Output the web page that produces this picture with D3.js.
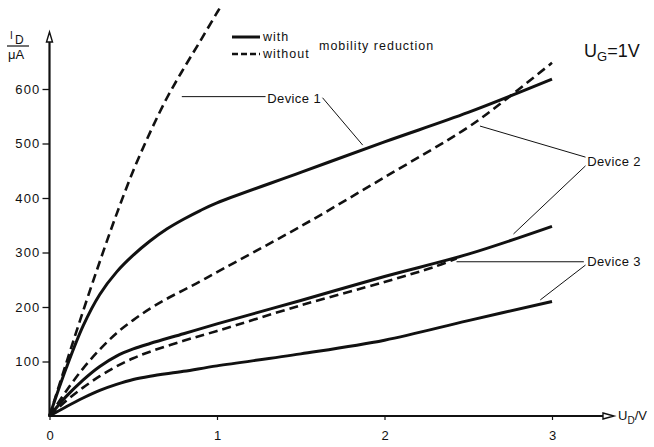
<!DOCTYPE html>
<html>
<head>
<meta charset="utf-8">
<script src="https://cdn.jsdelivr.net/npm/d3@7"></script>
<style>
  html, body { margin: 0; padding: 0; background: #fff; }
  svg { display: block; }
  text { font-family: "Liberation Sans", Arial, sans-serif; fill: #111; }
</style>
</head>
<body>
<svg id="chart" width="654" height="447"></svg>
<script>
// Drain current I_D (µA) versus drain voltage U_D (V) at U_G = 1 V
const xTicks = [0, 1, 2, 3];
const yTicks = [100, 200, 300, 400, 500, 600];

// Device 1
const dev1WithU    = [0, 0.1, 0.2, 0.3, 0.4, 0.5, 0.6, 0.7, 0.8, 0.9, 1.0, 1.5, 2.0, 2.5, 3.0];
const dev1WithI    = [0, 88, 165, 223, 264, 295, 321, 343, 361, 377, 391, 447, 503, 557, 618];
const dev1WithoutU = [0, 0.1, 0.2, 0.3, 0.4, 0.5, 0.6, 0.7, 0.8, 0.9, 1.0, 1.02];
const dev1WithoutI = [0, 97, 192, 283, 370, 450, 520, 583, 637, 688, 740, 750];

// Device 2
const dev2WithU    = [0, 0.1, 0.2, 0.3, 0.4, 0.5, 0.6, 0.8, 1.0, 1.5, 2.0, 2.5, 3.0];
const dev2WithI    = [0, 36, 66, 91, 110, 123, 133, 151, 169, 212, 256, 297, 348];
const dev2WithoutU = [0, 0.1, 0.2, 0.3, 0.4, 0.5, 0.6, 0.7, 0.8, 0.9, 1.0, 1.5, 2.0, 2.5, 2.7, 3.0];
const dev2WithoutI = [0, 46, 87, 122, 152, 176, 197, 215, 231, 247, 264, 348, 438, 530, 575, 648];

// Device 3
const dev3WithU    = [0, 0.1, 0.2, 0.3, 0.4, 0.5, 0.6, 0.8, 1.0, 1.5, 2.0, 2.5, 3.0];
const dev3WithI    = [0, 17, 33, 47, 58, 67, 73, 82, 92, 114, 139, 175, 210];
const dev3WithoutU = [0, 0.1, 0.2, 0.3, 0.4, 0.5, 0.6, 0.8, 1.0, 1.5, 2.0, 2.3, 2.43];
const dev3WithoutI = [0, 28, 52, 73, 91, 106, 118, 138, 156, 203, 246, 274, 289];

// Leader lines from the device labels to their curves, in (U, I) units
const labelNames  = ["Device 1", "Device 2", "Device 3"];
const labelAnchor = [[1.30, 582], [3.21, 467], [3.21, 283]];
const leaders = [
  [[[0.79, 586], [1.29, 586]], [[1.63, 584], [1.87, 497]]],
  [[[3.20, 475], [2.57, 532]], [[3.20, 459], [2.77, 334]]],
  [[[3.19, 283], [2.43, 283]], [[3.20, 277], [2.93, 213]]]
];

const svg = d3.select("#chart");
const x = d3.scaleLinear().domain([0, 3]).range([49.5, 552]);
const y = d3.scaleLinear().domain([0, 600]).range([416, 89]);

const zip = (us, is) => us.map((u, k) => [u, is[k]]);
const line = d3.line().x(d => x(d[0])).y(d => y(d[1])).curve(d3.curveCatmullRom.alpha(0.5));

// Axes
const yAxis = svg.append("g")
  .attr("transform", `translate(${x(0)},0)`)
  .call(d3.axisLeft(y).tickValues(yTicks).tickSize(7).tickPadding(2));
yAxis.select(".domain").remove();
yAxis.selectAll(".tick line").attr("stroke", "#111").attr("stroke-width", 1.3);
yAxis.selectAll(".tick text")
  .attr("font-size", 13).attr("letter-spacing", 1.2)
  .attr("font-family", "Liberation Sans, Arial, sans-serif").attr("fill", "#111");

const xAxis = svg.append("g")
  .attr("transform", `translate(0,${y(0)})`)
  .call(d3.axisBottom(x).tickValues(xTicks).tickFormat(d3.format("d")).tickSize(4).tickPadding(11));
xAxis.select(".domain").remove();
xAxis.selectAll(".tick line").attr("stroke", "#111").attr("stroke-width", 1.2);
xAxis.selectAll(".tick text")
  .attr("font-size", 13)
  .attr("font-family", "Liberation Sans, Arial, sans-serif").attr("fill", "#111");

// Axis lines with open arrowheads
const ax = svg.append("g").attr("stroke", "#111").attr("fill", "none");
ax.append("line").attr("x1", x(0)).attr("x2", x(0)).attr("y1", y(0) + 1).attr("y2", 42)
  .attr("stroke-width", 2.2);
ax.append("path").attr("d", `M${x(0) - 3},42 L${x(0)},32 L${x(0) + 3},42 Z`)
  .attr("stroke-width", 1.4);
ax.append("line").attr("x1", x(0) - 1).attr("x2", 603).attr("y1", y(0)).attr("y2", y(0))
  .attr("stroke-width", 2.2);
ax.append("path").attr("d", `M603,${y(0) - 3} L614,${y(0)} L603,${y(0) + 3} Z`)
  .attr("stroke-width", 1.4);

// Axis titles
const yt = svg.append("g");
yt.append("text").attr("x", 10).attr("y", 39).attr("font-size", 10).text("I");
yt.append("text").attr("x", 15).attr("y", 44).attr("font-size", 12).text("D");
yt.append("line").attr("x1", 7).attr("x2", 29).attr("y1", 46).attr("y2", 46)
  .attr("stroke", "#111").attr("stroke-width", 1.2);
yt.append("text").attr("x", 8).attr("y", 59).attr("font-size", 13).text("μA");

const xt = svg.append("text").attr("x", 618).attr("y", y(0) + 4).attr("font-size", 13);
xt.append("tspan").text("U");
xt.append("tspan").attr("font-size", 10).attr("dy", 4).text("D");
xt.append("tspan").attr("dy", -4).text("/V");

// Curves
const curves = [
  { pts: zip(dev1WithU, dev1WithI), dash: null },
  { pts: zip(dev2WithU, dev2WithI), dash: null },
  { pts: zip(dev3WithU, dev3WithI), dash: null },
  { pts: zip(dev1WithoutU, dev1WithoutI), dash: "9,5" },
  { pts: zip(dev2WithoutU, dev2WithoutI), dash: "9,5" },
  { pts: zip(dev3WithoutU, dev3WithoutI), dash: "9,5" }
];
svg.append("g").selectAll("path").data(curves).join("path")
  .attr("d", d => line(d.pts))
  .attr("fill", "none").attr("stroke", "#111")
  .attr("stroke-width", d => d.dash ? 2.6 : 3)
  .attr("stroke-dasharray", d => d.dash)
  .attr("stroke-linecap", "butt").attr("stroke-linejoin", "round");

// Device labels and leaders
const ann = svg.append("g");
labelNames.forEach((name, k) => {
  ann.append("text")
    .attr("x", x(labelAnchor[k][0])).attr("y", y(labelAnchor[k][1]))
    .attr("dy", "0.35em").attr("font-size", 13).attr("letter-spacing", 0.4)
    .text(name);
  leaders[k].forEach(seg => {
    ann.append("line")
      .attr("x1", x(seg[0][0])).attr("y1", y(seg[0][1]))
      .attr("x2", x(seg[1][0])).attr("y2", y(seg[1][1]))
      .attr("stroke", "#111").attr("stroke-width", 1);
  });
});

// Legend
const lg = svg.append("g");
lg.append("line").attr("x1", 232).attr("x2", 260).attr("y1", 37).attr("y2", 37)
  .attr("stroke", "#111").attr("stroke-width", 3);
lg.append("line").attr("x1", 232).attr("x2", 260).attr("y1", 54).attr("y2", 54)
  .attr("stroke", "#111").attr("stroke-width", 2.6).attr("stroke-dasharray", "6,3");
lg.append("text").attr("x", 263).attr("y", 41).attr("font-size", 12.5)
  .attr("letter-spacing", 1).text("with");
lg.append("text").attr("x", 263).attr("y", 58).attr("font-size", 12.5)
  .attr("letter-spacing", 1).text("without");
lg.append("text").attr("x", 319).attr("y", 50).attr("font-size", 12.5)
  .attr("letter-spacing", 1).text("mobility  reduction");

// Gate voltage note
const ug = svg.append("text").attr("x", 584).attr("y", 57).attr("font-size", 18);
ug.append("tspan").text("U");
ug.append("tspan").attr("font-size", 13).attr("dy", 4).text("G");
ug.append("tspan").attr("dy", -4).text("=1V");
</script>
</body>
</html>
